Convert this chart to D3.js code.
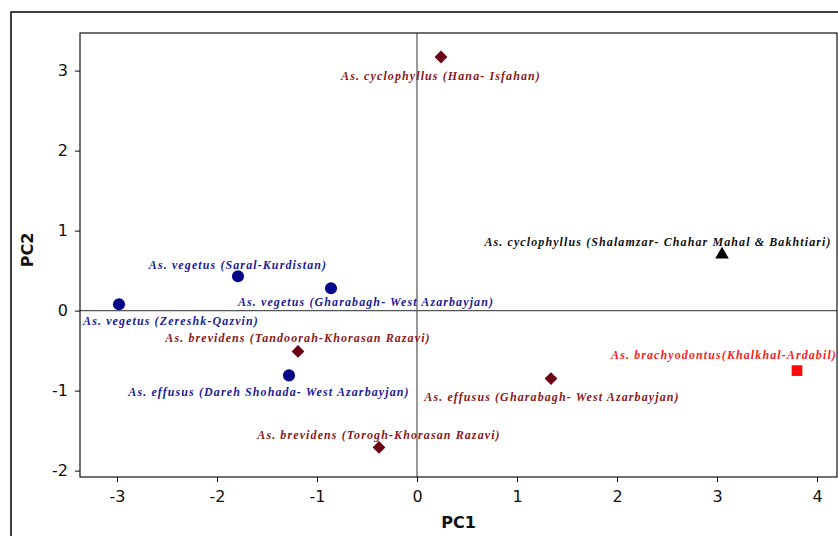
<!DOCTYPE html>
<html>
<head>
<meta charset="utf-8">
<script src="https://cdn.jsdelivr.net/npm/d3@7"></script>
<style>
  body { margin: 0; background: #fff; }
  .tick text { font-family: "DejaVu Sans", Verdana, sans-serif; font-size: 16px; fill: #111; }
  .etiket { font-family: "Liberation Serif", "Times New Roman", serif; font-style: italic; font-weight: bold; font-size: 12px; letter-spacing: 1.1px; }
  .astitel { font-family: "DejaVu Sans", Verdana, sans-serif; font-weight: bold; font-size: 16px; fill: #111; }
</style>
</head>
<body>
<div id="grafiek"></div>
<script>

// gegevens uit de figuur
var namen = [
  "As. cyclophyllus (Hana- Isfahan)",
  "As. cyclophyllus (Shalamzar- Chahar Mahal & Bakhtiari)",
  "As. vegetus (Saral-Kurdistan)",
  "As. vegetus (Gharabagh- West Azarbayjan)",
  "As. vegetus (Zereshk-Qazvin)",
  "As. brevidens (Tandoorah-Khorasan Razavi)",
  "As. effusus (Dareh Shohada- West Azarbayjan)",
  "As. brevidens (Torogh-Khorasan Razavi)",
  "As. effusus (Gharabagh- West Azarbayjan)",
  "As. brachyodontus(Khalkhal-Ardabil)"
];
var pc1 = [0.24, 3.05, -1.79, -0.86, -2.98, -1.19, -1.28, -0.38, 1.34, 3.80];
var pc2 = [3.17, 0.70, 0.43, 0.28, 0.08, -0.51, -0.81, -1.71, -0.85, -0.75];
var groep = ["ruit", "driehoek", "cirkel", "cirkel", "cirkel", "ruit", "cirkel", "ruit", "ruit", "vierkant"];

var xTicks = [-3, -2, -1, 0, 1, 2, 3, 4];
var yTicks = [-2, -1, 0, 1, 2, 3];

// opmaak per groep
var markerKleur = {cirkel: "#06068a", ruit: "#6b0014", driehoek: "#000000", vierkant: "#ff0a0a"};
var tekstKleur = {cirkel: "#1c1c96", ruit: "#8a1a1a", driehoek: "#111111", vierkant: "#ff1c1c"};
var symbool = {cirkel: d3.symbolCircle, ruit: d3.symbolSquare, driehoek: d3.symbolTriangle, vierkant: d3.symbolSquare};
var grootte = {cirkel: 115, ruit: 82, driehoek: 80, vierkant: 115};
var draai = {cirkel: 0, ruit: 45, driehoek: 0, vierkant: 0};

// plaats van de etiketten t.o.v. het punt (pixels)
var etiketPlaats = [[0, 19], [-64, -13], [0, -11], [35, 14], [52, 17],
                    [0, -14], [-20, 16], [0, -13], [1, 18], [-73, -16]];

var breedte = 838, hoogte = 536;
var marge = {boven: 33, beneden: 59, rechts: 1, links: 80};

var svg = d3.select("#grafiek")
            .append("svg")
            .attr("width", breedte)
            .attr("height", hoogte);

// buitenste kader
svg.append("rect")
   .attr("x", 11).attr("y", 12)
   .attr("width", 840).attr("height", 540)
   .attr("fill", "none")
   .attr("stroke", "#111")
   .attr("stroke-width", 1.6);

var x = d3.scaleLinear()
          .domain([-3.37, 4.2])
          .range([marge.links, breedte - marge.rechts]);
var y = d3.scaleLinear()
          .domain([-2.08, 3.47])
          .range([hoogte - marge.beneden, marge.boven]);

svg.append("clipPath").attr("id", "knip")
   .append("rect")
   .attr("x", marge.links).attr("y", marge.boven)
   .attr("width", x.range()[1] - marge.links)
   .attr("height", y.range()[0] - marge.boven);

// assen
svg.append("g")
   .attr("transform", "translate(0," + y.range()[0] + ")")
   .call(d3.axisBottom(x).tickValues(xTicks).tickFormat(function(d) { return String(d); }).tickSize(5).tickSizeOuter(0).tickPadding(9))
   .call(function(g) { g.select(".domain").remove(); });

svg.append("g")
   .attr("transform", "translate(" + marge.links + ",0)")
   .call(d3.axisLeft(y).tickValues(yTicks).tickFormat(function(d) { return String(d); }).tickSize(5).tickSizeOuter(0).tickPadding(7))
   .call(function(g) { g.select(".domain").remove(); });

// nullijnen
svg.append("line")
   .attr("x1", x(0)).attr("x2", x(0))
   .attr("y1", marge.boven).attr("y2", y.range()[0])
   .attr("stroke", "#333").attr("stroke-width", 1);
svg.append("line")
   .attr("x1", marge.links).attr("x2", x.range()[1])
   .attr("y1", y(0)).attr("y2", y(0))
   .attr("stroke", "#555").attr("stroke-width", 1.2);

// kader van het grafiekgebied
svg.append("rect")
   .attr("x", marge.links).attr("y", marge.boven)
   .attr("width", x.range()[1] - marge.links)
   .attr("height", y.range()[0] - marge.boven)
   .attr("fill", "none")
   .attr("stroke", "#111").attr("stroke-width", 1.2);

var laag = svg.append("g").attr("clip-path", "url(#knip)");

// punten
laag.selectAll("path.punt")
    .data(namen)
    .enter().append("path")
    .attr("class", "punt")
    .attr("transform", function(d, i) {
      return "translate(" + x(pc1[i]) + "," + y(pc2[i]) + ") rotate(" + draai[groep[i]] + ")"; })
    .attr("d", function(d, i) { return d3.symbol().type(symbool[groep[i]]).size(grootte[groep[i]])(); })
    .attr("fill", function(d, i) { return markerKleur[groep[i]]; });

// etiketten
laag.selectAll("text.etiket")
    .data(namen)
    .enter().append("text")
    .attr("class", "etiket")
    .attr("x", function(d, i) { return x(pc1[i]) + etiketPlaats[i][0]; })
    .attr("y", function(d, i) { return y(pc2[i]) + etiketPlaats[i][1]; })
    .attr("dy", "0.35em")
    .attr("text-anchor", "middle")
    .attr("fill", function(d, i) { return tekstKleur[groep[i]]; })
    .text(function(d) { return d; });

// astitels
svg.append("text")
   .attr("class", "astitel")
   .attr("x", (marge.links + x.range()[1]) / 2)
   .attr("y", 528)
   .attr("text-anchor", "middle")
   .text("PC1");
svg.append("text")
   .attr("class", "astitel")
   .attr("transform", "translate(33,250) rotate(-90)")
   .attr("text-anchor", "middle")
   .text("PC2");
</script>
</body>
</html>
